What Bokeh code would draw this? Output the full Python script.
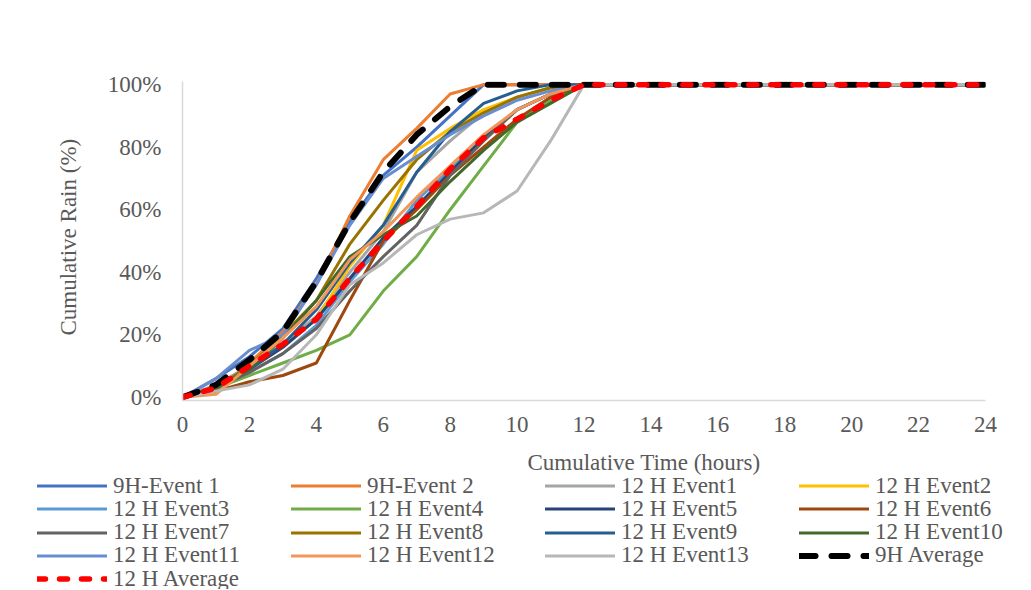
from bokeh.plotting import figure
from bokeh.models import Range1d, NumeralTickFormatter, FixedTicker, Legend, LegendItem, Label, Title
from bokeh.embed import file_html
from bokeh.resources import INLINE

hours = list(range(0, 25))
x_ticks = [0, 2, 4, 6, 8, 10, 12, 14, 16, 18, 20, 22, 24]
y_ticks = [0, 0.2, 0.4, 0.6, 0.8, 1.0]

names = ["9H-Event 1", "9H-Event 2", "12 H Event1", "12 H Event2", "12 H Event3",
         "12 H Event4", "12 H Event5", "12 H Event6", "12 H Event7", "12 H Event8",
         "12 H Event9", "12 H Event10", "12 H Event11", "12 H Event12", "12 H Event13",
         "9H Average", "12 H Average"]

ev9_1 = [0, 6, 13, 22, 38, 56, 71, 80, 90, 100, 100, 100, 100, 100, 100, 100, 100, 100, 100, 100, 100, 100, 100, 100, 100]
ev9_2 = [0, 2, 11, 21, 36, 58, 76, 86, 97, 100, 100, 100, 100, 100, 100, 100, 100, 100, 100, 100, 100, 100, 100, 100, 100]
ev12_1 = [0, 4, 10, 17, 26, 40, 53, 72, 82, 91, 96, 99, 100, 100, 100, 100, 100, 100, 100, 100, 100, 100, 100, 100, 100]
ev12_2 = [0, 3, 9, 16, 25, 42, 55, 79, 86, 92, 96, 99, 100, 100, 100, 100, 100, 100, 100, 100, 100, 100, 100, 100, 100]
ev12_3 = [0, 3, 8, 14, 23, 37, 49, 63, 73, 83, 92, 97, 100, 100, 100, 100, 100, 100, 100, 100, 100, 100, 100, 100, 100]
ev12_4 = [0, 3, 7, 11, 15, 20, 34, 45, 60, 74, 88, 95, 100, 100, 100, 100, 100, 100, 100, 100, 100, 100, 100, 100, 100]
ev12_5 = [0, 3, 9, 16, 25, 38, 51, 61, 72, 83, 92, 97, 100, 100, 100, 100, 100, 100, 100, 100, 100, 100, 100, 100, 100]
ev12_6 = [0, 2, 5, 7, 11, 31, 50, 60, 71, 80, 89, 96, 100, 100, 100, 100, 100, 100, 100, 100, 100, 100, 100, 100, 100]
ev12_7 = [0, 3, 8, 14, 22, 34, 45, 55, 71, 82, 92, 97, 100, 100, 100, 100, 100, 100, 100, 100, 100, 100, 100, 100, 100]
ev12_8 = [0, 3, 10, 20, 31, 49, 63, 76, 85, 91, 96, 99, 100, 100, 100, 100, 100, 100, 100, 100, 100, 100, 100, 100, 100]
ev12_9 = [0, 3, 9, 17, 28, 43, 55, 72, 85, 94, 98, 100, 100, 100, 100, 100, 100, 100, 100, 100, 100, 100, 100, 100, 100]
ev12_10 = [0, 3, 9, 19, 31, 45, 52, 58, 69, 79, 88, 94, 100, 100, 100, 100, 100, 100, 100, 100, 100, 100, 100, 100, 100]
ev12_11 = [0, 6, 15, 20, 36, 55, 70, 77, 84, 90, 95, 98, 100, 100, 100, 100, 100, 100, 100, 100, 100, 100, 100, 100, 100]
ev12_12 = [0, 1, 10, 19, 29, 44, 53, 64, 74, 84, 92, 97, 100, 100, 100, 100, 100, 100, 100, 100, 100, 100, 100, 100, 100]
ev12_13 = [0, 2, 4, 9, 20, 36, 43, 52, 57, 59, 66, 82, 100, 100, 100, 100, 100, 100, 100, 100, 100, 100, 100, 100, 100]
avg_9h = [0, 4, 12, 21, 37, 56, 72, 84, 93, 100, 100, 100, 100, 100, 100, 100, 100, 100, 100, 100, 100, 100, 100, 100, 100]
avg_12h = [0, 3, 10, 17, 25, 38, 50, 61, 73, 83, 89, 95, 100, 100, 100, 100, 100, 100, 100, 100, 100, 100, 100, 100, 100]

series = [ev9_1, ev9_2, ev12_1, ev12_2, ev12_3, ev12_4, ev12_5, ev12_6, ev12_7,
          ev12_8, ev12_9, ev12_10, ev12_11, ev12_12, ev12_13, avg_9h, avg_12h]
colors = ["#4472C4", "#ED7D31", "#A5A5A5", "#FFC000", "#5B9BD5", "#70AD47",
          "#264478", "#9E480E", "#636363", "#997300", "#255E91", "#43682B",
          "#698ED0", "#F1975A", "#B7B7B7", "#000000", "#FF0000"]

FONT = "Liberation Serif"
TXT = "#595959"
W = 1026
TOP_H = 440
BOT_H = 149
NCOLS = 4
ROW_PITCH = 23.25


def style_kwargs(nm, col):
    if nm == "9H Average":
        return dict(line_color=col, line_width=6, line_dash="16 16", line_cap="round")
    if nm == "12 H Average":
        return dict(line_color=col, line_width=5.5, line_dash="8 14", line_cap="round")
    return dict(line_color=col, line_width=3, line_cap="round", line_join="round")


p = figure(width=W, height=TOP_H, output_backend="svg", toolbar_location=None,
           x_range=Range1d(0, 24), y_range=Range1d(-0.01, 1.01),
           min_border_left=182, min_border_right=W - 985, min_border_top=81,
           min_border_bottom=40)
p.outline_line_color = None
p.grid.visible = False
p.background_fill_color = "white"
p.border_fill_color = "white"

for ax in (p.xaxis[0], p.yaxis[0]):
    ax.axis_line_color = "#D9D9D9"
    ax.axis_line_width = 1.5
    ax.major_tick_line_color = None
    ax.minor_tick_line_color = None
    ax.major_label_text_font = FONT
    ax.major_label_text_font_size = "23px"
    ax.major_label_text_color = TXT

p.xaxis.ticker = FixedTicker(ticks=x_ticks)
p.yaxis.ticker = FixedTicker(ticks=y_ticks)
p.yaxis.formatter = NumeralTickFormatter(format="0%")
p.xaxis.major_label_standoff = 10
p.yaxis.major_label_standoff = 15

ytitle = Title(text="Cumulative Rain (%)", align="left", offset=65, standoff=48,
               text_font=FONT, text_font_size="23px", text_color=TXT, text_font_style="normal")
p.add_layout(ytitle, "left")

for nm, vals, col in zip(names, series, colors):
    ys = [v / 100 for v in vals]
    p.line(hours, ys, **style_kwargs(nm, col))

# legend strip below the chart (separate root, so its frame spans the full width)
q = figure(width=W, height=BOT_H, output_backend="svg", toolbar_location=None,
           x_range=Range1d(0, W), y_range=Range1d(BOT_H, 0),
           min_border_left=0, min_border_right=0, min_border_top=0, min_border_bottom=0)
q.axis.visible = False
q.grid.visible = False
q.outline_line_color = None
q.background_fill_color = "white"
q.border_fill_color = "white"

items = []
for nm, vals, col in zip(names, series, colors):
    ys = [v / 100 for v in vals]
    r = q.line(hours, ys, visible=False, **style_kwargs(nm, col))
    items.append(LegendItem(label=nm, renderers=[r]))

# one legend per row so the row pitch can be tighter than the text box height
for row, start in enumerate(range(0, len(items), NCOLS)):
    leg = Legend(items=items[start:start + NCOLS], orientation="horizontal",
                 location=(37, 90.5 - ROW_PITCH * row), padding=0, margin=0, spacing=0,
                 glyph_width=70, glyph_height=23, label_height=23, label_width=178,
                 label_standoff=6, border_line_color=None, background_fill_alpha=0,
                 inactive_fill_alpha=0,
                 label_text_font=FONT, label_text_font_size="23px", label_text_color=TXT)
    q.add_layout(leg, "center")

xlab = Label(x=527, y=22, text="Cumulative Time (hours)",
             text_font=FONT, text_font_size="23px", text_color=TXT,
             text_align="left", text_baseline="middle")
q.add_layout(xlab)

open("out.html", "w").write(file_html([p, q], INLINE))
